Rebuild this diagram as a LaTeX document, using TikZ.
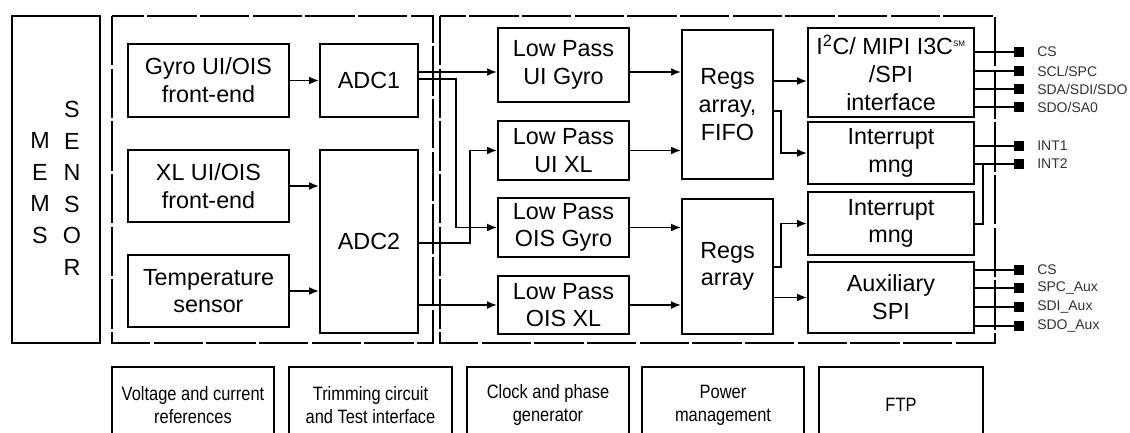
\documentclass[tikz,border=0pt]{standalone}
\usepackage{fontspec}
\setmainfont{Liberation Sans}
\newfontfamily\narrowfont[FakeStretch=0.85]{Liberation Sans}
\usetikzlibrary{arrows.meta}
\newcommand\mainsz{\fontsize{17.5pt}{20.8pt}\selectfont}
\newcommand\memssz{\fontsize{17.5pt}{23.6pt}\selectfont}
\newcommand\botsz{\narrowfont\fontsize{14.5pt}{17.25pt}\selectfont}
\newcommand\pinsz{\fontsize{10.5pt}{12pt}\selectfont}
\begin{document}
\begin{tikzpicture}[x=0.75pt,y=-0.75pt,
  wh/.style 2 args={minimum width=#1*0.75pt, minimum height=#2*0.75pt},
  box/.style={draw, line width=1.4pt, inner sep=0pt, align=center, font=\mainsz},
  botbox/.style={draw, line width=1.4pt, inner sep=0pt, align=center, font=\botsz},
  dashbox/.style={draw, line width=1.5pt, dash pattern=on 37pt off 2.5pt},
  arr/.style={line width=1.4pt, -{Latex[length=7.5pt,width=6pt]}},
  wire/.style={line width=1.4pt},
  pin/.style={fill=black, draw=none, minimum size=7pt, inner sep=0pt},
  pinlabel/.style={anchor=west, inner sep=0pt, font=\pinsz, text=black!80},
  letters/.style={align=center, inner sep=0pt, font=\memssz}
]
\fill[white] (0,0) rectangle (1130,432);
\useasboundingbox (0,0) rectangle (1130,432);
\clip (0,0) rectangle (1130,432);

% MEMS sensor
\node[box, wh={88}{327}] (mems) at (56,179.5) {};
\node[letters] (memsM) at (40,188) {M\\E\\M\\S};
\node[letters] (memsS) at (72,188.5) {S\\E\\N\\S\\O\\R};

% dashed groups
\draw[dashbox] (112,16) rectangle (433,343);
\draw[dashbox] (440,16) rectangle (995,343);

% analog front end
\node[box, wh={161}{73}] (gyro) at (208.5,80.5) {Gyro UI/OIS\\front-end};
\node[box, wh={98}{73}] (adc1) at (369,80.5) {ADC1};
\node[box, wh={161}{72}] (xl) at (208.5,186) {XL UI/OIS\\front-end};
\node[box, wh={98}{183}] (adc2) at (369,241.5) {ADC2};
\node[box, wh={161}{72}] (temp) at (208.5,291) {Temperature\\sensor};

% filters
\node[box, wh={131}{74}] (lpuig) at (563.5,65) {Low Pass\\UI Gyro};
\node[box, wh={131}{59}] (lpuix) at (563.5,150.5) {Low Pass\\UI XL};
\node[box, wh={131}{59}] (lpog) at (563.5,227.5) {Low Pass\\OIS Gyro};
\node[box, wh={131}{58}] (lpox) at (563.5,305) {Low Pass\\OIS XL};

% registers
\node[box, wh={91}{149}] (regs1) at (727.5,104.5) {Regs\\array,\\FIFO};
\node[box, wh={91}{135}] (regs2) at (727.5,266.5) {Regs\\array};

% interfaces
\node[box, wh={166}{89}] (i2c) at (891,72.5) {I\textsuperscript{2}C/ MIPI I3C\textsuperscript{\fontsize{6pt}{6pt}\selectfont SM}\\/SPI\\interface};
\node[box, wh={166}{62}] (int1) at (891,153) {Interrupt\\mng};
\node[box, wh={166}{63}] (int2) at (891,223.5) {Interrupt\\mng};
\node[box, wh={166}{71}] (aux) at (891,297.5) {Auxiliary\\SPI};

% bottom blocks
\node[botbox, wh={162}{76}] (b1) at (193,405) {Voltage and current\\references};
\node[botbox, wh={163}{76}] (b2) at (370.5,405) {Trimming circuit\\and Test interface};
\node[botbox, wh={162}{76}] (b3) at (548,405) {Clock and phase\\generator};
\node[botbox, wh={162}{76}] (b4) at (723,405) {Power\\management};
\node[botbox, wh={164}{76}] (b5) at (901,405) {FTP};

% helper coordinates
\coordinate (yA) at (0,72);
\coordinate (yB) at (0,79);
\coordinate (kB) at (456,79);
\coordinate (yC) at (0,243);
\coordinate (kC) at (470,243);
\coordinate (yR1) at (0,81);
\coordinate (yR2) at (0,111);
\coordinate (kR2) at (781,111);
\coordinate (yR3) at (0,267);
\coordinate (kR3) at (781,267);
\coordinate (j1) at (983,164);
\coordinate (j2) at (983,224);

% front-end to ADC
\draw[arr] (gyro.east) -- (adc1.west |- gyro.east);
\draw[arr] (xl.east) -- (adc2.west |- xl.east);
\draw[arr] (temp.east) -- (adc2.west |- temp.east);

% ADC to filters
\draw[arr] (adc1.east |- yA) -- (lpuig.west |- yA);
\draw[arr] (adc1.east |- yB) -- (kB) |- (lpog.west);
\draw[arr] (adc2.east |- yC) -- (kC) |- (lpuix.west);
\draw[arr] (adc2.east |- lpox.west) -- (lpox.west);

% filters to registers
\draw[arr] (lpuig.east |- yA) -- (regs1.west |- yA);
\draw[arr] (lpuix.east) -- (regs1.west |- lpuix.east);
\draw[arr] (lpog.east) -- (regs2.west |- lpog.east);
\draw[arr] (lpox.east) -- (regs2.west |- lpox.east);

% registers to interfaces
\draw[arr] (regs1.east |- yR1) -- (i2c.west |- yR1);
\draw[arr] (regs1.east |- yR2) -- (kR2) |- (int1.west);
\draw[arr] (regs2.east |- yR3) -- (kR3) |- (int2.west);
\draw[arr] (regs2.east |- aux.west) -- (aux.west);

% pins
\foreach \nm/\yy/\lab/\src in {p1/52/{CS}/i2c, p2/71/{SCL/SPC}/i2c, p3/89/{SDA/SDI/SDO}/i2c, p4/107/{SDO/SA0}/i2c,
  p5/146/{INT1}/int1, p6/164/{INT2}/int1,
  p7/270/{CS}/aux, p8/288/{SPC\_Aux}/aux, p9/307/{SDI\_Aux}/aux, p10/326/{SDO\_Aux}/aux}{
  \node[pin] (\nm) at (1019,\yy) {};
  \node[pinlabel] (\nm l) at (1037,\yy) {\lab};
  \draw[wire] (\src.east |- \nm) -- (\nm);
}
\draw[wire] (int2.east |- j2) -- (j2) -- (j1);
\end{tikzpicture}
\end{document}
